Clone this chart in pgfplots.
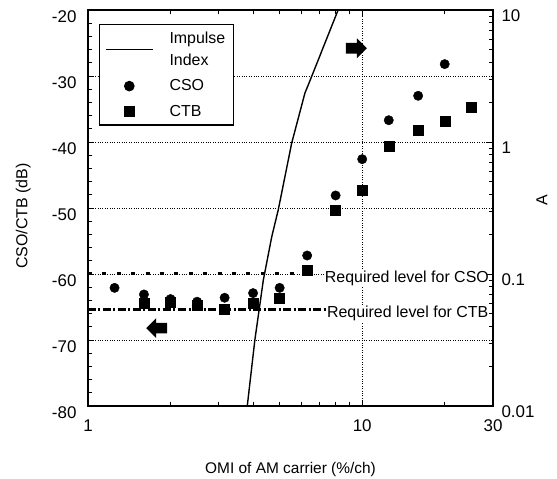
\documentclass[border=0pt]{standalone}
\usepackage{pgfplots}
\usepackage{pgfplotstable}
\pgfplotsset{compat=1.18}
\usepackage{fontspec}
\setmainfont{Liberation Sans}

\pgfplotsset{
  mylinelegend/.style={legend image code/.code={\draw[##1] (0bp,0bp) -- (47bp,0bp);}},
  mymarklegend/.style={legend image code/.code={\draw[mark repeat=2,mark phase=2,##1] plot coordinates {(0bp,0bp) (23.5bp,0bp) (47bp,0bp)};}},
}

\pgfplotstableread{
x y
1.25 -62.1
1.6 -63.1
2 -63.8
2.5 -64.2
3.15 -63.6
4 -62.9
5 -62.1
6.3 -57.2
8 -48.1
10 -42.6
12.5 -36.7
16 -33.0
20 -28.2
}\csodata

\pgfplotstableread{
x y
1.6 -64.4
2 -64.2
2.5 -64.8
3.15 -65.4
4 -64.4
5 -63.7
6.3 -59.4
8 -50.3
10 -47.3
12.5 -40.7
16 -38.2
20 -36.8
25 -34.8
}\ctbdata

\pgfplotstableread{
x A
3.81 0.01
4.06 0.0316
4.36 0.090
4.68 0.192
4.94 0.305
5.53 0.977
6.18 2.34
6.54 3.13
8.17 10
}\impdata

\begin{document}
\begin{tikzpicture}[font=\fontsize{16}{19}\selectfont]
\begin{axis}[
  scale only axis, width=405bp, height=396bp,
  xmode=log, xmin=1, xmax=30,
  tick align=inside,
  major tick length=6bp, minor tick length=4bp,
  axis line style={line width=1.2bp},
  every tick/.style={black, line width=0.8bp},
  tick label style={font=\fontsize{17}{20}\selectfont},
  ymin=-80, ymax=-20,
  xtick={1,10,30}, xticklabels={1,10,30},
  minor xtick={2,3,4,5,6,7,8,9,20},
  ytick={-80,-70,-60,-50,-40,-30,-20},
  yticklabels={-80,-70,-60,-50,-40,-30,-20},
  minor ytick={-78,-76,...,-22},
  xtick pos=both, ytick pos=left,
  xmajorgrids, ymajorgrids,
  major grid style={black, line width=0.8bp, dash pattern=on 1bp off 1.4bp},
  yticklabel style={xshift=-8bp, yshift=-7bp},
  xticklabel style={yshift=-10bp},
  xlabel={OMI of AM carrier (\%/ch)},
  xlabel style={at={(axis description cs:0.5,-0.1616)}, anchor=center, font=\fontsize{15.5}{18}\selectfont},
  ylabel={CSO/CTB (dB)},
  ylabel style={at={(axis description cs:-0.16,0.48)}, anchor=center},
  legend style={at={(axis description cs:0.026,0.964)}, anchor=north west,
    draw=black, line width=1.2bp, font=\fontsize{16}{22}\selectfont,
    cells={align=left}, row sep=9bp, inner xsep=6bp, inner ysep=5bp, column sep=14bp},
  legend cell align=left,
]
\coordinate (bl) at (rel axis cs:0,0);
\coordinate (tr) at (rel axis cs:1,1);
\coordinate (la) at (axis cs:1.78,-68.2);
\coordinate (ra) at (axis cs:9.53,-25.8);
\addlegendimage{black, line width=1.4bp, mylinelegend}
\addlegendentry{Impulse\\Index}
\addplot[black, line width=3bp, dash pattern=on 4bp off 10.4bp, forget plot] coordinates {(1,-60) (6.89,-60)};
\addplot[black, line width=2.5bp, dash pattern=on 8bp off 2.5bp on 2bp off 2.5bp, forget plot] coordinates {(1,-65.4) (7.37,-65.4)};
\addplot[only marks, mark=*, mark size=4.7bp, black, mymarklegend]
  table[x=x,y=y] {\csodata};
\addlegendentry{CSO}
\addplot[only marks, mark=square*, mark size=5bp, black, mymarklegend]
  table[x=x,y=y] {\ctbdata};
\addlegendentry{CTB}
\node[anchor=west, fill=white, inner sep=1bp, yshift=-4.5bp] at (axis cs:7.24,-60) {Required level for CSO};
\node[anchor=west, fill=white, inner sep=1bp, yshift=-3.7bp] at (axis cs:7.37,-65.4) {Required level for CTB};
\end{axis}
\begin{axis}[
  scale only axis, width=405bp, height=396bp,
  xmode=log, xmin=1, xmax=30,
  tick align=inside,
  major tick length=6bp, minor tick length=4bp,
  axis line style={line width=1.2bp},
  every tick/.style={black, line width=0.8bp},
  tick label style={font=\fontsize{17}{20}\selectfont},
  ymode=log, ymin=0.01, ymax=10,
  hide x axis,
  ytick pos=right, yticklabel pos=right,
  ytick={0.01,0.1,1,10}, yticklabels={0.01,0.1,1,10},
  yticklabel style={xshift=5bp, yshift=-6bp},
  ylabel={A},
  ylabel style={at={(axis description cs:1.121,0.52)}, anchor=center},
]
\addplot[black, line width=1.4bp] table[x=x,y=A] {\impdata};
\end{axis}
\fill[black, shift={(la)}] (-10.5bp,0bp) -- (-0.5bp,10bp) -- (-0.5bp,5.3bp) -- (10.5bp,5.3bp) -- (10.5bp,-5.3bp) -- (-0.5bp,-5.3bp) -- (-0.5bp,-10bp) -- cycle;
\fill[black, shift={(ra)}] (10.5bp,0bp) -- (0.5bp,10bp) -- (0.5bp,5.3bp) -- (-10.5bp,5.3bp) -- (-10.5bp,-5.3bp) -- (0.5bp,-5.3bp) -- (0.5bp,-10bp) -- cycle;
\pgfresetboundingbox
\path ([xshift=-88bp,yshift=-73bp]bl) rectangle ([xshift=64bp,yshift=10bp]tr);
\end{tikzpicture}
\end{document}
